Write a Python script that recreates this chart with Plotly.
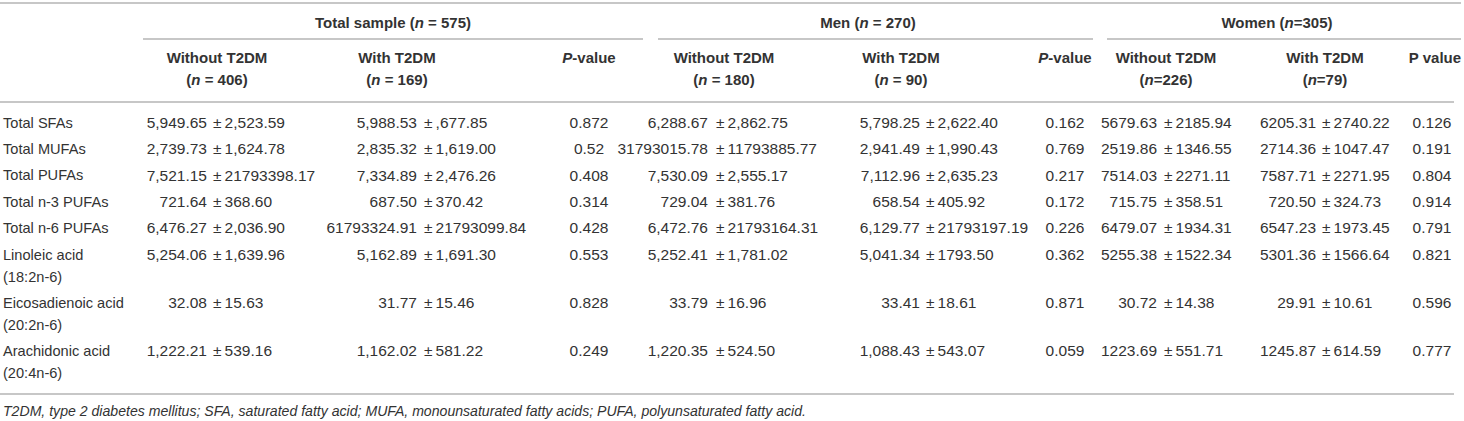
import plotly.graph_objects as go

# rows of the table
labels = ["Total SFAs", "Total MUFAs", "Total PUFAs", "Total n-3 PUFAs", "Total n-6 PUFAs",
          "Linoleic acid<br>(18:2n-6)", "Eicosadienoic acid<br>(20:2n-6)", "Arachidonic acid<br>(20:4n-6)"]

# total sample
total_without_mean = ["5,949.65", "2,739.73", "7,521.15", "721.64", "6,476.27", "5,254.06", "32.08", "1,222.21"]
total_without_sd = ["2,523.59", "1,624.78", "21793398.17", "368.60", "2,036.90", "1,639.96", "15.63", "539.16"]
total_with_mean = ["5,988.53", "2,835.32", "7,334.89", "687.50", "61793324.91", "5,162.89", "31.77", "1,162.02"]
total_with_sd = [",677.85", "1,619.00", "2,476.26", "370.42", "21793099.84", "1,691.30", "15.46", "581.22"]
total_p = ["0.872", "0.52", "0.408", "0.314", "0.428", "0.553", "0.828", "0.249"]

# men
men_without_mean = ["6,288.67", "31793015.78", "7,530.09", "729.04", "6,472.76", "5,252.41", "33.79", "1,220.35"]
men_without_sd = ["2,862.75", "11793885.77", "2,555.17", "381.76", "21793164.31", "1,781.02", "16.96", "524.50"]
men_with_mean = ["5,798.25", "2,941.49", "7,112.96", "658.54", "6,129.77", "5,041.34", "33.41", "1,088.43"]
men_with_sd = ["2,622.40", "1,990.43", "2,635.23", "405.92", "21793197.19", "1793.50", "18.61", "543.07"]
men_p = ["0.162", "0.769", "0.217", "0.172", "0.226", "0.362", "0.871", "0.059"]

# women
women_without_mean = ["5679.63", "2519.86", "7514.03", "715.75", "6479.07", "5255.38", "30.72", "1223.69"]
women_without_sd = ["2185.94", "1346.55", "2271.11", "358.51", "1934.31", "1522.34", "14.38", "551.71"]
women_with_mean = ["6205.31", "2714.36", "7587.71", "720.50", "6547.23", "5301.36", "29.91", "1245.87"]
women_with_sd = ["2740.22", "1047.47", "2271.95", "324.73", "1973.45", "1566.64", "10.61", "614.59"]
women_p = ["0.126", "0.191", "0.804", "0.914", "0.791", "0.821", "0.596", "0.777"]

# headers
groups = ["Total sample (<i>n</i> = 575)", "Men (<i>n</i> = 270)", "Women (<i>n</i>=305)"]
sub_top = ["Without T2DM", "With T2DM", "<i>P</i>-value",
           "Without T2DM", "With T2DM", "<i>P</i>-value",
           "Without T2DM", "With T2DM", "P value"]
sub_bottom = ["(<i>n</i> = 406)", "(<i>n</i> = 169)", "",
              "(<i>n</i> = 180)", "(<i>n</i> = 90)", "",
              "(<i>n</i>=226)", "(<i>n</i>=79)", ""]
footnote = ("T2DM, type 2 diabetes mellitus; SFA, saturated fatty acid; "
            "MUFA, monounsaturated fatty acids; PUFA, polyunsaturated fatty acid.")

# layout in page pixels
W, H = 1464, 421
FONT = "Liberation Sans, Arial, sans-serif"
TXT = "#333333"
RULE = "#b4b4b4"
FS = 15        # headers
FS_LAB = 14.6  # row labels
FS_NUM = 15.5  # numbers

group_x = [393, 868, 1277]
sub_x = [217, 397, 589, 724, 901, 1065, 1166, 1325, 1435]
mean_x = [207, 417, 708, 920, 1157, 1316]   # right edge of means
sd_x = [213, 424, 716, 926, 1164, 1322]     # left edge of +/- sd
p_x = [589, 1065, 1432]

# row centres
row_y = []
cur = 124
for lab in labels:
    row_y.append(cur)
    cur += 48.3 if "<br>" in lab else 26.4

fig = go.Figure()


def add_text(xs, ys, texts, pos, size=FS):
    fig.add_trace(go.Scatter(
        x=xs, y=ys, text=texts, mode="text", textposition=pos,
        textfont=dict(family=FONT, size=size, color=TXT),
        hoverinfo="skip", showlegend=False, cliponaxis=False))


# header text
add_text(group_x, [24] * 3, ["<b>%s</b>" % g for g in groups], "middle center")
add_text(sub_x, [59] * 9, ["<b>%s</b>" % s for s in sub_top], "middle center")
add_text(sub_x, [81] * 9, ["<b>%s</b>" % s for s in sub_bottom], "middle center")

# row labels, second line placed under the first
first = [lab.split("<br>")[0] for lab in labels]
add_text([3] * len(labels), row_y, first, "middle right", FS_LAB)
second_y = [y + 22 for y, lab in zip(row_y, labels) if "<br>" in lab]
second = [lab.split("<br>")[1] for lab in labels if "<br>" in lab]
add_text([3] * len(second), second_y, second, "middle right", FS_LAB)

means = [total_without_mean, total_with_mean, men_without_mean,
         men_with_mean, women_without_mean, women_with_mean]
sds = [total_without_sd, total_with_sd, men_without_sd,
       men_with_sd, women_without_sd, women_with_sd]
for xm, xs, m, s in zip(mean_x, sd_x, means, sds):
    add_text([xm] * len(m), row_y, m, "middle left", FS_NUM)
    add_text([xs] * len(s), row_y, ["\u00b1\u2009" + v for v in s], "middle right", FS_NUM)

for xp, p in zip(p_x, [total_p, men_p, women_p]):
    add_text([xp] * len(p), row_y, p, "middle center", FS_NUM)

add_text([3], [412], ["<i>%s</i>" % footnote], "middle right", size=14.1)

# horizontal rules
rules = [(0, 1461, 3), (143, 643, 39), (658, 1093, 39), (1107, 1461, 39),
         (0, 1454, 102), (0, 1454, 394)]
for x0, x1, y in rules:
    fig.add_shape(type="line", x0=x0, x1=x1, y0=y, y1=y, xref="x", yref="y",
                  line=dict(color=RULE, width=1.5))

fig.update_xaxes(range=[0, W], visible=False, fixedrange=True)
fig.update_yaxes(range=[H, 0], visible=False, fixedrange=True)
fig.update_layout(width=W, height=H, margin=dict(l=0, r=0, t=0, b=0),
                  plot_bgcolor="white", paper_bgcolor="white")

# drop the default 8px page margin so the figure sits at the window corner
fig.write_html("out.html", config={"displayModeBar": False},
               post_script="document.body.style.margin='0';")
